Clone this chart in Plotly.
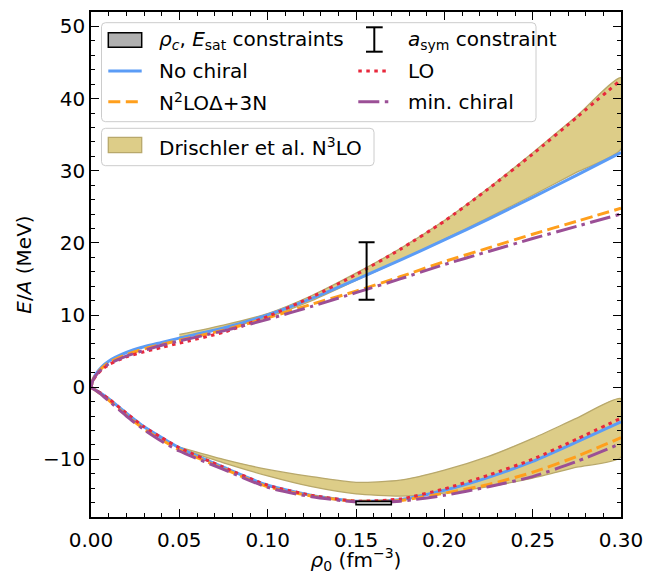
import plotly.graph_objects as go

# ---------------- data ----------------
rho = [0.0, 0.001, 0.003, 0.006, 0.01, 0.02, 0.03, 0.04, 0.05, 0.075, 0.10,
       0.125, 0.15, 0.175, 0.20, 0.225, 0.25, 0.275, 0.30]

# pure neutron matter (upper branch)
pnm_nochiral = [0.0, 1.0, 1.9, 2.8, 3.6, 4.8, 5.6, 6.2, 6.8, 8.2, 10.0,
                12.3, 14.9, 17.6, 20.4, 23.3, 26.3, 29.4, 32.5]
pnm_lo = [0.0, 0.85, 1.6, 2.4, 3.1, 4.2, 4.9, 5.5, 6.1, 7.6, 9.8,
          12.5, 15.6, 19.1, 23.0, 27.5, 32.3, 37.4, 42.6]
pnm_n2lo = [0.0, 0.95, 1.8, 2.6, 3.4, 4.5, 5.3, 5.9, 6.5, 7.9, 9.6,
            11.5, 13.3, 15.3, 17.4, 19.3, 21.2, 23.0, 24.8]
pnm_minchiral = [0.0, 0.9, 1.7, 2.5, 3.2, 4.3, 5.1, 5.8, 6.4, 7.8, 9.4,
                 11.2, 13.1, 15.0, 17.0, 18.8, 20.6, 22.3, 24.0]

# symmetric nuclear matter (lower branch)
snm_nochiral = [0.0, -0.15, -0.45, -0.9, -1.6, -3.6, -5.5, -7.0, -8.4, -11.1, -13.6,
                -15.0, -15.8, -15.6, -14.3, -12.5, -10.3, -7.6, -4.8]
snm_lo = [0.0, -0.15, -0.45, -0.9, -1.6, -3.6, -5.5, -7.0, -8.4, -11.1, -13.6,
          -15.0, -15.8, -15.5, -14.1, -12.2, -10.0, -7.2, -4.3]
snm_n2lo = [0.0, -0.17, -0.5, -1.0, -1.8, -3.9, -5.8, -7.3, -8.7, -11.3, -13.8,
            -15.1, -15.8, -15.7, -14.7, -13.5, -11.8, -9.6, -7.0]
snm_minchiral = [0.0, -0.18, -0.52, -1.05, -1.9, -4.0, -5.9, -7.5, -8.85, -11.4, -13.9,
                 -15.2, -15.9, -15.8, -15.0, -13.8, -12.4, -10.3, -7.8]

# Drischler et al. N3LO bands
rho_band = [0.05, 0.075, 0.10, 0.125, 0.15, 0.175, 0.20, 0.225, 0.25, 0.275, 0.30]
pnm_band_hi = [7.3, 8.6, 10.2, 12.7, 15.8, 19.2, 23.1, 27.6, 32.5, 37.6, 42.9]
pnm_band_lo = [6.9, 8.1, 9.7, 12.0, 14.8, 17.6, 20.5, 23.5, 26.6, 29.8, 33.0]
snm_band_hi = [-8.3, -10.0, -11.4, -12.4, -13.2, -12.9, -11.5, -9.6, -7.1, -4.3, -1.6]
snm_band_lo = [-8.5, -10.5, -12.3, -13.8, -14.8, -15.1, -14.7, -13.8, -12.6, -11.1, -9.7]

# constraints
rho_c_range = [0.15, 0.17]
esat_range = [-16.3, -15.8]
asym_rho = [0.156]
asym_val = [16.1]
asym_err = [4.0]

x_ticks = [0.0, 0.05, 0.10, 0.15, 0.20, 0.25, 0.30]
y_ticks = [-10, 0, 10, 20, 30, 40, 50]

# ---------------- styles ----------------
C_BLUE = "#5b9cf6"
C_RED = "#e8283c"
C_ORANGE = "#ff9f1c"
C_PURPLE = "#9b4f96"
C_BAND = "#ddcd88"
C_BAND_EDGE = "#b8a86b"
FONT = "DejaVu Sans"
FS = 20

DASH_SOLID = "solid"
DASH_DOT = "3.5px,4.5px"
DASH_DASH = "12px,5.5px"
DASH_DASHDOT = "21px,5.5px,3.5px,5.5px"
LW = 3

fig = go.Figure()

# bands
for xs, hi, lo in [(rho_band, pnm_band_hi, pnm_band_lo), (rho_band, snm_band_hi, snm_band_lo)]:
    fig.add_trace(go.Scatter(
        x=list(xs) + list(xs)[::-1], y=list(hi) + list(lo)[::-1],
        fill="toself", fillcolor=C_BAND, mode="lines",
        line=dict(color=C_BAND_EDGE, width=1.3, shape="spline", smoothing=0.6),
        showlegend=False, hoverinfo="skip"))

models = [
    (pnm_nochiral, snm_nochiral, C_BLUE, DASH_SOLID),
    (pnm_n2lo, snm_n2lo, C_ORANGE, DASH_DASH),
    (pnm_lo, snm_lo, C_RED, DASH_DOT),
    (pnm_minchiral, snm_minchiral, C_PURPLE, DASH_DASHDOT),
]
for pnm, snm, col, dash in models:
    for ys in (pnm, snm):
        fig.add_trace(go.Scatter(
            x=rho, y=ys, mode="lines",
            line=dict(color=col, width=LW, dash=dash, shape="spline", smoothing=0.6),
            showlegend=False))

# asym constraint
fig.add_trace(go.Scatter(
    x=asym_rho, y=asym_val, mode="markers",
    marker=dict(size=1, color="rgba(0,0,0,0)"),
    error_y=dict(type="data", array=asym_err, color="black", thickness=2, width=8),
    showlegend=False))

# saturation box
fig.add_shape(type="rect", xref="x", yref="y",
              x0=rho_c_range[0], x1=rho_c_range[1], y0=esat_range[0], y1=esat_range[1],
              fillcolor="#b0b0b0", line=dict(color="black", width=1.5), layer="above")

# ---------------- manual legend ----------------
W, H = 659, 574
ML, MR, MT, MB = 91, 38, 12, 57
PW, PH = W - ML - MR, H - MT - MB


def px(x):
    return (x - ML) / PW


def py(y):
    return (H - MB - y) / PH


def rounded_box(x0, y0, x1, y1, r=4):
    return (f"M {px(x0 + r)},{py(y0)} L {px(x1 - r)},{py(y0)} "
            f"Q {px(x1)},{py(y0)} {px(x1)},{py(y0 + r)} "
            f"L {px(x1)},{py(y1 - r)} Q {px(x1)},{py(y1)} {px(x1 - r)},{py(y1)} "
            f"L {px(x0 + r)},{py(y1)} Q {px(x0)},{py(y1)} {px(x0)},{py(y1 - r)} "
            f"L {px(x0)},{py(y0 + r)} Q {px(x0)},{py(y0)} {px(x0 + r)},{py(y0)} Z")


for box in [(101.5, 22.7, 536, 121.7), (101.5, 128.3, 374, 165.7)]:
    fig.add_shape(type="path", xref="paper", yref="paper", path=rounded_box(*box),
                  fillcolor="rgba(255,255,255,0.8)", line=dict(color="#cccccc", width=1),
                  layer="above")

# swatches
fig.add_shape(type="rect", xref="paper", yref="paper", x0=px(108.3), x1=px(141.7),
              y0=py(47.3), y1=py(32.7), fillcolor="#b0b0b0",
              line=dict(color="black", width=1.5), layer="above")
fig.add_shape(type="rect", xref="paper", yref="paper", x0=px(108.3), x1=px(141.7),
              y0=py(152.7), y1=py(137.3), fillcolor=C_BAND,
              line=dict(color=C_BAND_EDGE, width=1.3), layer="above")
for (xa, xb, yy, col, dash) in [
    (108.3, 141.7, 71, C_BLUE, DASH_SOLID),
    (108.3, 141.7, 101.7, C_ORANGE, DASH_DASH),
    (358.3, 390, 71, C_RED, DASH_DOT),
    (358.3, 390, 101.7, C_PURPLE, DASH_DASHDOT),
]:
    fig.add_shape(type="line", xref="paper", yref="paper", x0=px(xa), x1=px(xb),
                  y0=py(yy), y1=py(yy), line=dict(color=col, width=LW, dash=dash),
                  layer="above")
# error-bar symbol
fig.add_shape(type="line", xref="paper", yref="paper", x0=px(374.3), x1=px(374.3),
              y0=py(27.3), y1=py(51.7), line=dict(color="black", width=2), layer="above")
for yy in (27.3, 51.7):
    fig.add_shape(type="line", xref="paper", yref="paper", x0=px(366), x1=px(382.7),
                  y0=py(yy), y1=py(yy), line=dict(color="black", width=2), layer="above")

labels = [
    (157, 40, "<i>ρ</i><sub><i>c</i></sub>, <i>E</i><sub>sat</sub> constraints"),
    (157, 71, "No chiral"),
    (157, 101.7, "N<sup>2</sup>LOΔ+3N"),
    (405.7, 40, "<i>a</i><sub>sym</sub> constraint"),
    (405.7, 71, "LO"),
    (405.7, 101.7, "min. chiral"),
    (157, 147.3, "Drischler et al. N<sup>3</sup>LO"),
]
for xx, yy, t in labels:
    fig.add_annotation(x=px(xx), y=py(yy), xref="paper", yref="paper", text=t,
                       showarrow=False, xanchor="left", yanchor="middle",
                       font=dict(family=FONT, size=FS, color="black"))

axis_common = dict(
    showline=True, linecolor="black", linewidth=1.5, mirror="allticks",
    ticks="inside", ticklen=8, tickwidth=1.3, tickcolor="black",
    showgrid=False, zeroline=False, automargin=False,
    tickfont=dict(family=FONT, size=FS, color="black"),
)

fig.update_xaxes(range=[0, 0.3], tickvals=x_ticks, tickformat=".2f",
                 ticklabelstandoff=4,
                 minor=dict(dtick=0.01, ticks="inside", ticklen=4.5, tickwidth=1.1,
                            tickcolor="black", showgrid=False),
                 title=dict(text="<i>ρ</i><sub>0</sub> (fm<sup>−3</sup>)",
                            font=dict(family=FONT, size=FS, color="black"), standoff=5),
                 **axis_common)
fig.update_yaxes(range=[-18, 52], tickvals=y_ticks,
                 minor=dict(dtick=2, tick0=0, ticks="inside", ticklen=4.5, tickwidth=1.1,
                            tickcolor="black", showgrid=False),
                 title=dict(text="<i>E</i>/<i>A</i> (MeV)",
                            font=dict(family=FONT, size=FS, color="black"), standoff=6),
                 **axis_common)

fig.update_layout(
    width=W, height=H,
    margin=dict(l=ML, r=MR, t=MT, b=MB),
    paper_bgcolor="white", plot_bgcolor="white",
    showlegend=False,
    font=dict(family=FONT, size=FS, color="black"),
)

fig.write_html("out.html", config={"displayModeBar": False},
               post_script="document.body.style.margin='0';document.body.style.overflow='hidden';")
